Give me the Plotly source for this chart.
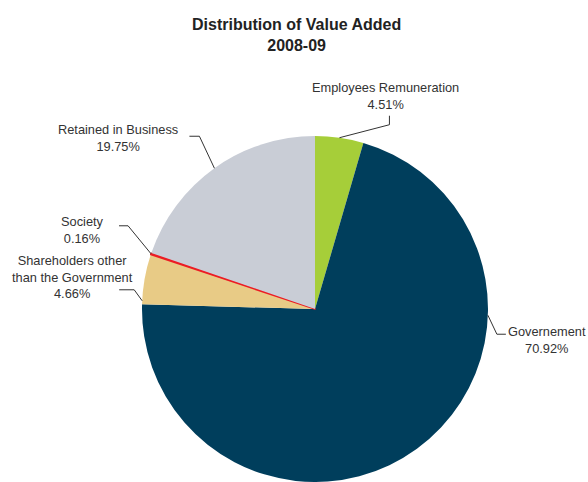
import math
import plotly.graph_objects as go

# Distribution of value added, 2008-09 (% share)
categories = ["Employees Remuneration", "Governement",
              "Shareholders other<br>than the Government", "Society",
              "Retained in Business"]
shares = [4.51, 70.92, 4.66, 0.16, 19.75]
colors = ["#a6ce39", "#003e5c", "#e8cb86", "#ec1c24", "#c9cdd6"]

W, H = 588, 482
# pie geometry in pixels (domain chosen so radius = half the domain width)
CX, R = 315, 173
dom_x = [(CX - R) / W, (CX + R) / W]
dom_y = [0, 1 - (H - 2 * R) / H]
CY = H - R


def px(x, y):
    return x / W, 1 - y / H


# thin slices get an outline in their own colour so they stay visible
line_widths = [1.6 if v < 1 else 0 for v in shares]

fig = go.Figure(go.Pie(
    labels=categories, values=shares, sort=False, direction="clockwise",
    rotation=0, textinfo="none", hoverinfo="label+percent",
    marker=dict(colors=colors, line=dict(color=colors, width=line_widths)),
    domain=dict(x=dom_x, y=dom_y), showlegend=False,
))

# label layout: where on the slice the leader starts (fraction of slice),
# the leader's bends (pixel offsets) and the label centre (pixels)
label_layout = [
    dict(frac=0.5, bends=[(50, -13), (0, -9)], text_at=(385, 96)),
    dict(frac=0.297, bends=[(9, 19), (9, 0)], text_at=(547, 340)),
    dict(frac=0.07, bends=[(-8, -11), (-15, 0)], text_at=(72, 277)),
    dict(frac=0.5, bends=[(-23, -28), (-9, 0)], text_at=(82, 230)),
    dict(frac=0.5, bends=[(-15, -32), (-10, 0)], text_at=(118, 138)),
]

total = sum(shares)
cum = 0.0
shapes, annotations = [], []
for name, val, lay in zip(categories, shares, label_layout):
    theta = 2 * math.pi * (cum + lay["frac"] * val) / total
    cum += val
    x0 = CX + R * math.sin(theta)
    y0 = CY - R * math.cos(theta)
    pts = [(x0, y0)]
    for dx, dy in lay["bends"]:
        pts.append((pts[-1][0] + dx, pts[-1][1] + dy))
    path = "M " + " L ".join(f"{px(x, y)[0]:.5f},{px(x, y)[1]:.5f}" for x, y in pts)
    shapes.append(dict(type="path", path=path, xref="paper", yref="paper",
                       line=dict(color="#333333", width=1)))
    tx, ty = px(*lay["text_at"])
    annotations.append(dict(
        text=f"{name}<br>{val:.2f}%", x=tx, y=ty, xref="paper", yref="paper",
        xanchor="center", yanchor="middle", showarrow=False, align="center",
        font=dict(family="Liberation Sans, Arial, sans-serif", size=12.8,
                  color="#333333"),
    ))

tx, ty = px(297, 35)
annotations.append(dict(
    text="<b>Distribution of Value Added</b><br><b>2008-09</b>", x=tx, y=ty,
    xref="paper", yref="paper", xanchor="center", yanchor="middle",
    showarrow=False, align="center",
    font=dict(family="Liberation Sans, Arial, sans-serif", size=16,
              color="#222222"),
))

fig.update_layout(
    width=W, height=H, margin=dict(l=0, r=0, t=0, b=0),
    paper_bgcolor="white", plot_bgcolor="white",
    shapes=shapes, annotations=annotations,
)

fig.write_html("out.html")
